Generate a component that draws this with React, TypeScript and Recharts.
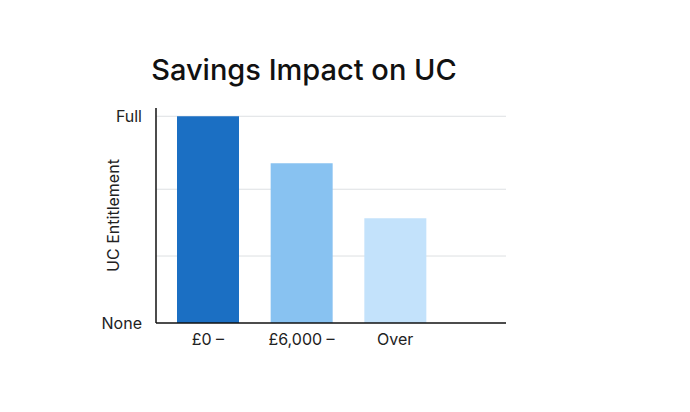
import { BarChart, Bar, XAxis, YAxis, CartesianGrid, Cell } from 'recharts';

const categories = ['£0 –', '£6,000 –', 'Over'];
const entitlement = [100, 77.3, 50.7];
const barColors = ['#1b6fc3', '#88c2f1', '#c3e2fb'];
const yTicks = [0, 32.4, 64.7, 100];
const gridValues = [32.4, 64.7, 100];
const yTickLabels: Record<number, string> = { 0: 'None', 100: 'Full' };

const data = categories.map((name, i) => ({ name, value: entitlement[i] }));

const font = 'Inter, "Open Sans", sans-serif';

export default function App() {
  return (
    <div style={{ position: 'absolute', left: 0, top: 0, width: 690, height: 412, background: '#fff', fontFamily: font }}>
      <div
        style={{
          position: 'absolute',
          left: 0,
          width: 608,
          top: 52,
          textAlign: 'center',
          fontSize: 29,
          fontWeight: 500,
          color: '#111',
        }}
      >
        Savings Impact on UC
      </div>
      <BarChart
        width={690}
        height={412}
        data={data}
        margin={{ top: 108, right: 184, bottom: 59, left: 96 }}
        barCategoryGap={0}
      >
        <CartesianGrid vertical={false} stroke="#dde0e3" horizontalValues={gridValues} />
        <XAxis
          dataKey="name"
          height={30}
          tickLine={false}
          axisLine={{ stroke: '#111', strokeWidth: 1.5 }}
          tick={{ fill: '#222', fontSize: 16, fontFamily: font }}
          tickMargin={5}
          padding={{ left: 5, right: 64 }}
        />
        <YAxis
          width={60}
          domain={[0, 104]}
          ticks={yTicks}
          interval={0}
          tickLine={false}
          axisLine={{ stroke: '#111', strokeWidth: 1.5 }}
          tick={{ fill: '#222', fontSize: 16, fontFamily: font }}
          tickFormatter={(v: number) => yTickLabels[v] ?? ''}
          tickMargin={8}
          label={{
            value: 'UC Entitlement',
            angle: -90,
            position: 'insideLeft',
            offset: 17,
            style: { fill: '#222', fontSize: 16, fontFamily: font, textAnchor: 'middle' },
          }}
        />
        <Bar dataKey="value" barSize={62} isAnimationActive={false}>
          {data.map((d, i) => (
            <Cell key={d.name} fill={barColors[i]} />
          ))}
        </Bar>
      </BarChart>
    </div>
  );
}
